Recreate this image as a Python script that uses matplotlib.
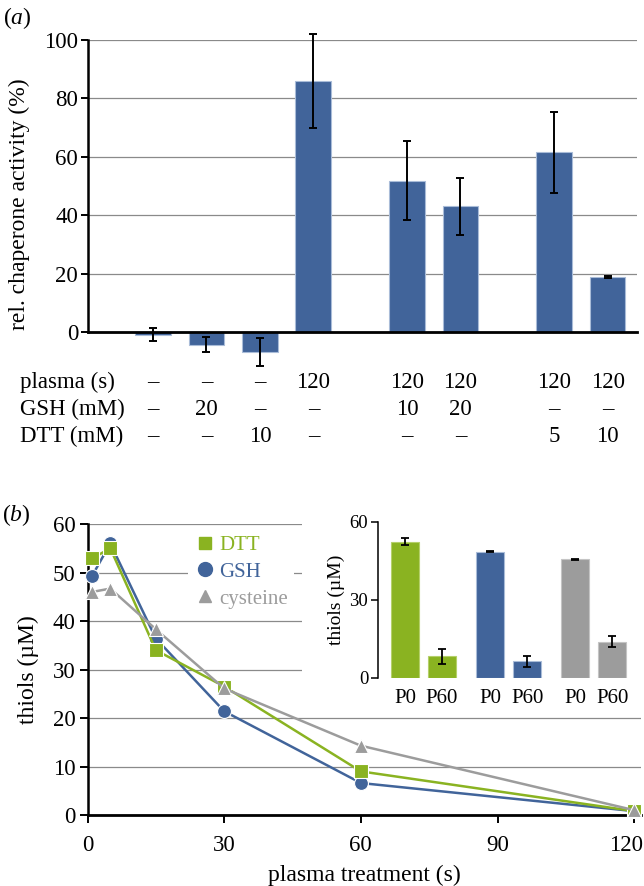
import matplotlib
matplotlib.use('Agg')
import matplotlib.pyplot as plt
import matplotlib.transforms as mtransforms
from matplotlib.lines import Line2D
from matplotlib.patches import Rectangle

plt.rcParams['font.family'] = ['Liberation Serif', 'DejaVu Serif']
plt.rcParams['mathtext.fontset'] = 'custom'
plt.rcParams['mathtext.rm'] = 'Liberation Serif'
plt.rcParams['mathtext.it'] = 'Liberation Serif:italic'

# panel (a): chaperone activity
act_pos = [0, 1, 2, 3, 4.75, 5.75, 7.5, 8.5]
act_val = [-0.9, -4.4, -6.8, 86.0, 51.8, 43.0, 61.5, 18.7]
act_err = [2.2, 2.6, 4.7, 16.0, 13.5, 9.7, 14.0, 0.3]
row_names = ['plasma (s)', 'GSH (mM)', 'DTT (mM)']
plasma_row = ['–', '–', '–', '120', '120', '120', '120', '120']
gsh_row = ['–', '20', '–', '–', '10', '20', '–', '–']
dtt_row = ['–', '–', '10', '–', '–', '–', '5', '10']

# panel (b): thiols vs plasma time
t = [1, 5, 15, 30, 60, 120]
dtt = [52.9, 55.0, 34.0, 26.5, 9.0, 0.8]
gsh = [49.3, 56.0, 36.4, 21.4, 6.6, 0.8]
cys = [46.0, 46.7, 38.3, 26.1, 14.3, 1.0]

# inset
ins_pos = [0, 1, 2.3, 3.3, 4.6, 5.6]
ins_lab = ['P0', 'P60', 'P0', 'P60', 'P0', 'P60']
ins_val = [52.4, 8.3, 48.6, 6.4, 45.6, 14.0]
ins_err = [1.3, 2.8, 0.2, 2.2, 0.2, 2.2]

blue = '#41649a'
green = '#8ab321'
gray = '#9c9c9c'
gridc = '#8a8a8a'

fig = plt.figure(figsize=(6.44, 8.86), dpi=100)

# ---------------- (a)
ax = fig.add_axes([0.1366, 0.5841, 0.853, 0.3708])
ax.bar(act_pos, act_val, width=0.67, color=blue, edgecolor='#a9bcd8', linewidth=0.8, zorder=2)
ax.errorbar(act_pos, act_val, yerr=act_err, fmt='none', ecolor='black',
            elinewidth=1.4, capsize=3, capthick=1.4, zorder=3, clip_on=False)
ax.set_xlim(-1.215, 9.056)
ax.set_ylim(-12.5, 100)
ax.set_yticks([0, 20, 40, 60, 80, 100])
ax.yaxis.grid(True, color=gridc, linewidth=0.9)
ax.set_axisbelow(True)
ax.set_xticks([])
for s in ['top', 'right']:
    ax.spines[s].set_visible(False)
ax.spines['bottom'].set_position(('data', 0))
ax.spines['bottom'].set_linewidth(2.0)
ax.spines['left'].set_bounds(0, 100)
ax.spines['left'].set_linewidth(1.8)
ax.tick_params(axis='y', direction='out', length=5, width=1.4, labelsize=16.5, pad=2)
ax.set_ylabel('rel. chaperone activity (%)', fontsize=17, labelpad=10)

trans = mtransforms.blended_transform_factory(ax.transData, fig.transFigure)
row_y = [1 - 388 / 886, 1 - 415 / 886, 1 - 442 / 886]
for name, vals, y in zip(row_names, [plasma_row, gsh_row, dtt_row], row_y):
    fig.text(20 / 644, y, name, fontsize=16.5, ha='left', va='baseline')
    for x, v in zip(act_pos, vals):
        ax.text(x, y, v, transform=trans, fontsize=16.5, ha='center', va='baseline', clip_on=False)

fig.text(3 / 644, 1 - 24 / 886, r'($\it{a}$)', fontsize=17, ha='left', va='baseline')

# ---------------- (b)
bx = fig.add_axes([0.1359, 0.0801, 0.8595, 0.3284])
bx.plot(t, gsh, color=blue, lw=1.8, marker='o', ms=10, mec='white', mew=0.8, zorder=3, clip_on=False)
bx.plot(t, dtt, color=green, lw=1.8, marker='s', ms=9.5, mec='white', mew=0.8, zorder=4, clip_on=False)
bx.plot(t, cys, color=gray, lw=1.8, marker='^', ms=10, mec='white', mew=0.8, zorder=5, clip_on=False)
bx.set_xlim(0, 121.5)
bx.set_ylim(0, 60)
bx.set_xticks([0, 30, 60, 90, 120])
bx.set_yticks([0, 10, 20, 30, 40, 50, 60])
bx.yaxis.grid(True, color=gridc, linewidth=0.9)
bx.set_axisbelow(True)
for s in ['top', 'right']:
    bx.spines[s].set_visible(False)
bx.spines['bottom'].set_linewidth(2.0)
bx.spines['left'].set_linewidth(1.8)
bx.tick_params(direction='out', length=5.5, width=1.4, labelsize=16.5, pad=3)
bx.tick_params(axis='x', pad=9)
bx.set_xlabel('plasma treatment (s)', fontsize=17, labelpad=6)
bx.set_ylabel('thiols (µM)', fontsize=17, labelpad=10)
# keep the last tick label inside the picture
last = bx.get_xticklabels()[-1]
last.set_transform(last.get_transform() + mtransforms.ScaledTranslation(-8 / 100, 0, fig.dpi_scale_trans))

# white area behind inset hides the grid
bx.add_patch(Rectangle((302 / 644, 1 - 712 / 886), 1 - 302 / 644, 200 / 886,
                       transform=fig.transFigure, facecolor='white', edgecolor='none',
                       zorder=1, clip_on=False))

handles = [Line2D([], [], ls='none', marker='s', ms=9, color=green),
           Line2D([], [], ls='none', marker='o', ms=10, color=blue),
           Line2D([], [], ls='none', marker='^', ms=9, color=gray)]
leg = bx.legend(handles, ['DTT', 'GSH', 'cysteine'], loc='upper left',
                bbox_to_anchor=(188 / 644, 1 - 529 / 886), bbox_transform=fig.transFigure,
                fontsize=15, frameon=True, framealpha=1, facecolor='white', edgecolor='none',
                handlelength=1.0, handletextpad=0.2, labelspacing=0.35, borderpad=0.3,
                borderaxespad=0, fancybox=False)
for txt, c in zip(leg.get_texts(), [green, blue, gray]):
    txt.set_color(c)
leg.set_zorder(6)

fig.text(2 / 644, 1 - 521 / 886, r'($\it{b}$)', fontsize=17, ha='left', va='baseline')

# ---------------- inset
ix = fig.add_axes([378 / 644, 0.2348, 0.3924, 0.1761])
ix.set_zorder(5)
ix.patch.set_alpha(0)
ix.bar(ins_pos, ins_val, width=0.76,
       color=[green, green, blue, blue, gray, gray],
       edgecolor=['#b5d06a', '#b5d06a', '#a9bcd8', '#a9bcd8', '#c4c4c4', '#c4c4c4'],
       linewidth=0.8)
ix.errorbar(ins_pos, ins_val, yerr=ins_err, fmt='none', ecolor='black',
            elinewidth=1.3, capsize=3, capthick=1.3)
ix.set_xlim(-0.73, 6.1)
ix.set_ylim(0, 60)
ix.set_yticks([0, 30, 60])
ix.set_xticks(ins_pos)
ix.set_xticklabels(ins_lab)
for s in ['top', 'right', 'bottom']:
    ix.spines[s].set_visible(False)
ix.spines['left'].set_linewidth(1.1)
ix.tick_params(axis='y', direction='out', length=5, width=1.1, labelsize=13.5, pad=2)
ix.tick_params(axis='x', length=0, labelsize=15, pad=8)
ix.set_ylabel('thiols (µM)', fontsize=14, labelpad=3)

fig.savefig('out.png', dpi=100)
